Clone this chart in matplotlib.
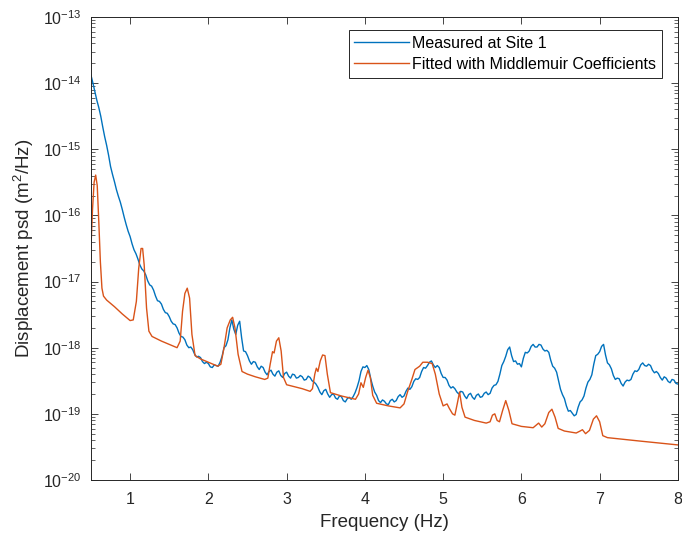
import matplotlib
matplotlib.use('Agg')
import matplotlib.pyplot as plt
import numpy as np

plt.rcParams['font.family'] = ['Liberation Sans', 'DejaVu Sans']
plt.rcParams['mathtext.default'] = 'regular'

# measured psd, log10 values every 0.025 Hz from 0.5 to 8.0 Hz
meas_freq = [round(0.5 + 0.025 * i, 3) for i in range(301)]
meas_log = [
    -13.88, -14.00, -14.13, -14.26, -14.37, -14.50, -14.66, -14.81, -14.94, -15.09,
    -15.26, -15.38, -15.49, -15.61, -15.71, -15.80, -15.91, -16.03, -16.14, -16.24,
    -16.32, -16.43, -16.52, -16.58, -16.66, -16.75, -16.81, -16.84, -16.90, -16.99,
    -17.05, -17.07, -17.13, -17.22, -17.29, -17.30, -17.34, -17.42, -17.47, -17.48,
    -17.53, -17.60, -17.64, -17.65, -17.70, -17.78, -17.83, -17.84, -17.88, -17.96,
    -18.00, -17.99, -18.03, -18.10, -18.14, -18.13, -18.15, -18.21, -18.24, -18.22,
    -18.24, -18.29, -18.30, -18.26, -18.27, -18.28, -18.22, -18.13, -18.00, -17.97,
    -17.88, -17.70, -17.58, -17.72, -17.80, -17.66, -17.60, -17.85, -18.05, -18.06,
    -18.12, -18.20, -18.25, -18.21, -18.22, -18.29, -18.33, -18.28, -18.30, -18.37,
    -18.41, -18.36, -18.34, -18.40, -18.43, -18.37, -18.35, -18.42, -18.45, -18.39,
    -18.37, -18.43, -18.46, -18.40, -18.41, -18.46, -18.45, -18.42, -18.44, -18.49,
    -18.48, -18.43, -18.45, -18.50, -18.52, -18.55, -18.60, -18.67, -18.71, -18.65,
    -18.63, -18.70, -18.75, -18.71, -18.70, -18.76, -18.78, -18.73, -18.74, -18.80,
    -18.82, -18.77, -18.75, -18.78, -18.74, -18.68, -18.60, -18.50, -18.36, -18.29,
    -18.30, -18.27, -18.33, -18.47, -18.58, -18.67, -18.72, -18.80, -18.83, -18.79,
    -18.81, -18.85, -18.86, -18.80, -18.78, -18.82, -18.80, -18.74, -18.71, -18.75,
    -18.73, -18.66, -18.61, -18.63, -18.59, -18.51, -18.47, -18.48, -18.45, -18.36,
    -18.30, -18.31, -18.27, -18.22, -18.20, -18.26, -18.30, -18.27, -18.30, -18.39,
    -18.45, -18.45, -18.49, -18.57, -18.61, -18.59, -18.62, -18.67, -18.70, -18.66,
    -18.67, -18.73, -18.77, -18.71, -18.69, -18.75, -18.78, -18.72, -18.70, -18.75,
    -18.74, -18.69, -18.67, -18.71, -18.69, -18.61, -18.57, -18.56, -18.51, -18.40,
    -18.27, -18.21, -18.13, -18.03, -17.99, -18.12, -18.21, -18.20, -18.25, -18.24,
    -18.29, -18.16, -18.07, -18.08, -18.05, -17.98, -17.95, -17.99, -17.99, -17.95,
    -17.96, -18.02, -18.05, -18.04, -18.07, -18.19, -18.28, -18.31, -18.37, -18.50,
    -18.63, -18.71, -18.77, -18.88, -18.96, -18.95, -18.99, -19.03, -19.01, -18.90,
    -18.82, -18.79, -18.73, -18.61, -18.52, -18.48, -18.41, -18.25, -18.12, -18.10,
    -18.06, -17.98, -17.95, -18.11, -18.23, -18.26, -18.32, -18.42, -18.48, -18.46,
    -18.47, -18.54, -18.58, -18.52, -18.49, -18.50, -18.48, -18.40, -18.35, -18.36,
    -18.33, -18.26, -18.23, -18.27, -18.28, -18.25, -18.27, -18.34, -18.38, -18.36,
    -18.39, -18.45, -18.49, -18.44, -18.46, -18.51, -18.53, -18.48, -18.49, -18.54,
    -18.55,
]

# fitted psd (Middlemuir coefficients), log10 values
fit_freq = [
    0.50, 0.52, 0.54, 0.56, 0.58, 0.60, 0.62, 0.64, 0.66, 0.70, 0.80, 0.90, 1.00,
    1.04, 1.08, 1.11, 1.14, 1.16, 1.18, 1.21, 1.24, 1.28, 1.40, 1.50, 1.60, 1.64,
    1.67, 1.70, 1.73, 1.76, 1.79, 1.83, 1.90, 2.00, 2.12, 2.16, 2.20, 2.24, 2.28,
    2.31, 2.34, 2.38, 2.43, 2.50, 2.60, 2.72, 2.76, 2.79, 2.82, 2.84, 2.87, 2.90,
    2.93, 2.96, 3.00, 3.10, 3.20, 3.30, 3.33, 3.36, 3.38, 3.40, 3.43, 3.46, 3.49,
    3.52, 3.56, 3.70, 3.88, 3.92, 3.95, 3.98, 4.01, 4.04, 4.07, 4.10, 4.15, 4.30,
    4.45, 4.50, 4.55, 4.60, 4.64, 4.70, 4.74, 4.80, 4.86, 4.90, 4.95, 5.00, 5.05,
    5.08, 5.12, 5.15, 5.18, 5.21, 5.24, 5.28, 5.40, 5.55, 5.60, 5.63, 5.66, 5.69,
    5.72, 5.76, 5.80, 5.84, 5.88, 6.00, 6.15, 6.19, 6.22, 6.26, 6.30, 6.35, 6.39,
    6.43, 6.47, 6.55, 6.70, 6.75, 6.78, 6.82, 6.87, 6.92, 6.96, 7.00, 7.04, 7.10,
    7.50, 8.00,
]
fit_log = [
    -16.48, -15.90, -15.50, -15.39, -15.55, -16.10, -16.70, -17.10, -17.22, -17.28,
    -17.38, -17.49, -17.59, -17.58, -17.30, -16.80, -16.50, -16.50, -16.75, -17.40,
    -17.75, -17.83, -17.90, -17.95, -18.00, -17.90, -17.45, -17.18, -17.10, -17.25,
    -17.80, -18.12, -18.17, -18.22, -18.28, -18.25, -18.00, -17.70, -17.58, -17.54,
    -17.70, -18.10, -18.36, -18.40, -18.44, -18.48, -18.46, -18.25, -18.06, -18.08,
    -17.90, -17.85, -18.05, -18.45, -18.56, -18.59, -18.62, -18.66, -18.62, -18.40,
    -18.31, -18.36, -18.20, -18.11, -18.12, -18.40, -18.68, -18.73, -18.78, -18.70,
    -18.53, -18.60, -18.45, -18.34, -18.45, -18.72, -18.84, -18.88, -18.91, -18.85,
    -18.65, -18.48, -18.33, -18.28, -18.22, -18.22, -18.24, -18.40, -18.70, -18.88,
    -18.85, -18.92, -19.00, -19.02, -18.85, -18.67, -18.90, -19.05, -19.10, -19.14,
    -19.12, -19.02, -19.00, -19.10, -19.12, -18.95, -18.80, -18.95, -19.15, -19.19,
    -19.21, -19.17, -19.14, -19.20, -19.15, -18.98, -18.93, -19.05, -19.22, -19.26,
    -19.29, -19.26, -19.24, -19.30, -19.25, -19.08, -19.03, -19.12, -19.33, -19.36,
    -19.41, -19.47,
]

x_ticks = [1, 2, 3, 4, 5, 6, 7, 8]
y_decades = list(range(-20, -12))


def main():
    fig = plt.figure(figsize=(6.82, 5.41), dpi=100)
    ax = fig.add_axes([0.1334, 0.1128, 0.8606, 0.8558])

    ax.semilogy(meas_freq, 10 ** np.array(meas_log), color='#0072BD', lw=1.0,
                label='Measured at Site 1')
    ax.semilogy(fit_freq, 10 ** np.array(fit_log), color='#D95319', lw=1.0,
                label='Fitted with Middlemuir Coefficients')

    ax.set_xlim(0.5, 8)
    ax.set_ylim(1e-20, 1e-13)
    ax.set_xticks(x_ticks)
    ax.set_yticks([10.0 ** e for e in y_decades])
    ax.set_yticks([m * 10.0 ** e for e in y_decades[:-1] for m in range(2, 10)],
                  minor=True)
    ax.set_ylim(1e-20, 1e-13)

    ax.tick_params(which='both', direction='in', top=True, right=True,
                   colors='#262626', labelsize=11.5)
    ax.tick_params(which='major', length=5, width=0.6)
    ax.tick_params(which='minor', length=3, width=0.5)
    ax.tick_params(axis='y', which='major', pad=7)
    ax.tick_params(axis='x', which='major', pad=8.5)
    for spine in ax.spines.values():
        spine.set_color('#262626')
        spine.set_linewidth(0.7)

    ax.set_xlabel('Frequency (Hz)', fontsize=13.5, color='#262626', labelpad=5)
    ax.set_ylabel('Displacement psd (m$^2$/Hz)', fontsize=13.5,
                  color='#262626', labelpad=5)

    leg = ax.legend(loc='upper right', bbox_to_anchor=(0.9727, 0.972),
                    borderaxespad=0, fancybox=False, framealpha=1,
                    edgecolor='#262626', fontsize=11.5, handlelength=3.44,
                    borderpad=0.35, labelspacing=0.4, handletextpad=0.2)
    leg.get_frame().set_linewidth(0.7)

    fig.savefig('out.png', dpi=100)


if __name__ == '__main__':
    main()
